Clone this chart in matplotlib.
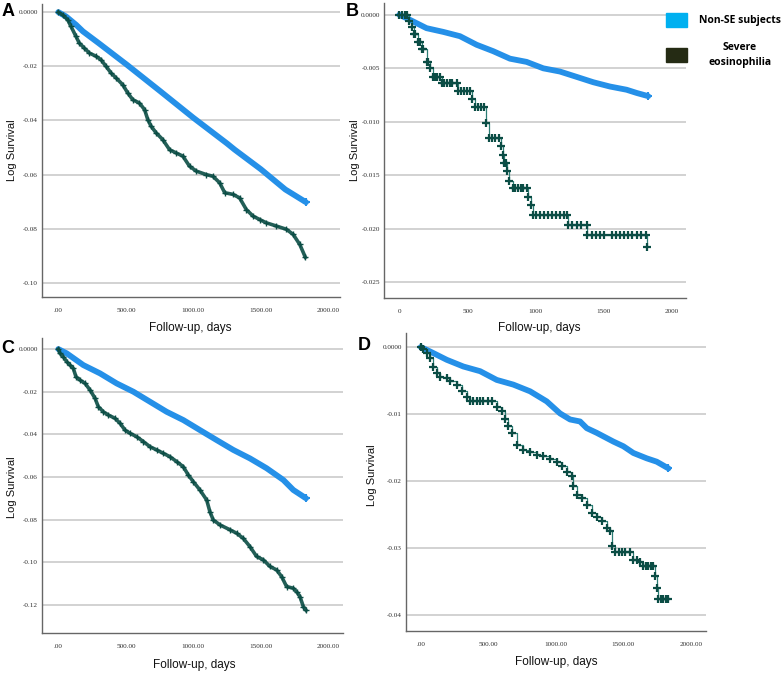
import numpy as np
import matplotlib
matplotlib.use("Agg")
import matplotlib.pyplot as plt
from matplotlib.patches import Rectangle

W, H = 782, 674

# ---- Panel A ----
a_blue_days = [0, 57, 132, 182, 300, 507, 750, 1000, 1250, 1307, 1500, 1682, 1835]
a_blue_vals = [0, -0.0016, -0.0047, -0.0071, -0.0115, -0.0194, -0.0290, -0.0390, -0.0485,
               -0.0508, -0.0580, -0.0655, -0.0702]
a_green_days = [0, 32, 69, 94, 131, 155, 193, 230, 279, 317, 353, 391, 428, 477, 515, 551,
                601, 639, 663, 688, 725, 774, 824, 873, 923, 972, 1022, 1096, 1145, 1195,
                1233, 1294, 1343, 1393, 1442, 1492, 1541, 1616, 1690, 1740, 1789, 1830]
a_green_vals = [0, -0.0010, -0.0028, -0.0053, -0.0090, -0.0114, -0.0133, -0.0151, -0.0163,
                -0.0176, -0.0200, -0.0225, -0.0243, -0.0268, -0.0299, -0.0323, -0.0336,
                -0.0360, -0.0397, -0.0422, -0.0446, -0.0471, -0.0508, -0.0520, -0.0532,
                -0.0569, -0.0587, -0.0600, -0.0606, -0.0630, -0.0667, -0.0673, -0.0686,
                -0.0729, -0.0753, -0.0766, -0.0778, -0.0790, -0.0802, -0.0821, -0.0858, -0.0905]

# ---- Panel B ----
b_blue_days = [0, 78, 200, 323, 445, 567, 689, 812, 934, 1056, 1178, 1301, 1423, 1545, 1667, 1741, 1826]
b_blue_vals = [0, -0.00047, -0.00125, -0.0016, -0.0020, -0.0028, -0.0034, -0.0041, -0.0044,
               -0.0050, -0.0053, -0.0058, -0.0063, -0.0067, -0.0070, -0.0073, -0.0076]
b_green_days = [0, 20, 40, 55, 73, 90, 105, 115, 140, 150, 165, 171, 205, 213, 225, 244, 260,
                280, 298, 310, 330, 350, 370, 390, 420, 433, 455, 475, 500, 518, 531, 555,
                575, 600, 621, 636, 660, 680, 700, 733, 743, 758, 768, 780, 792, 807, 831,
                850, 870, 890, 910, 934, 946, 963, 978, 1000, 1030, 1060, 1090, 1120, 1150,
                1180, 1210, 1227, 1240, 1270, 1300, 1330, 1374, 1379, 1410, 1440, 1470, 1500,
                1560, 1590, 1620, 1650, 1680, 1710, 1740, 1770, 1807, 1814]
b_green_vals = [0, 0, 0, 0, -0.0006, -0.0011, -0.0018, -0.0018, -0.0025, -0.0025, -0.0032,
                -0.0032, -0.0044, -0.0044, -0.0050, -0.0058, -0.0058, -0.0058, -0.0058,
                -0.0064, -0.0064, -0.0064, -0.0064, -0.0064, -0.0064, -0.0071, -0.0071,
                -0.0071, -0.0071, -0.0071, -0.0079, -0.0086, -0.0086, -0.0086, -0.0086,
                -0.0101, -0.0115, -0.0115, -0.0115, -0.0115, -0.0123, -0.0131, -0.0138,
                -0.0138, -0.0146, -0.0155, -0.0162, -0.0162, -0.0162, -0.0162, -0.0162,
                -0.0162, -0.0170, -0.0178, -0.0187, -0.0187, -0.0187, -0.0187, -0.0187,
                -0.0187, -0.0187, -0.0187, -0.0187, -0.0187, -0.0196, -0.0196, -0.0196,
                -0.0196, -0.0196, -0.0206, -0.0206, -0.0206, -0.0206, -0.0206, -0.0206,
                -0.0206, -0.0206, -0.0206, -0.0206, -0.0206, -0.0206, -0.0206, -0.0206, -0.0217]

# ---- Panel C ----
c_blue_days = [0, 62, 185, 309, 432, 556, 679, 802, 926, 1049, 1173, 1296, 1420, 1543, 1667, 1741, 1835]
c_blue_vals = [0, -0.0020, -0.0075, -0.0114, -0.0161, -0.0200, -0.0247, -0.0294, -0.0333,
               -0.0380, -0.0427, -0.0473, -0.0513, -0.0559, -0.0614, -0.0661, -0.0700]
c_green_days = [0, 12, 37, 62, 86, 111, 131, 160, 198, 235, 272, 296, 333, 370, 420, 457, 494,
                531, 580, 630, 679, 728, 778, 827, 877, 926, 963, 1000, 1049, 1099, 1123, 1148,
                1198, 1272, 1321, 1370, 1420, 1469, 1519, 1568, 1617, 1654, 1691, 1741, 1765,
                1790, 1815, 1835]
c_green_vals = [0, -0.0020, -0.0036, -0.0059, -0.0075, -0.0091, -0.0130, -0.0145, -0.0161,
                -0.0192, -0.0231, -0.0270, -0.0294, -0.0309, -0.0325, -0.0348, -0.0380,
                -0.0395, -0.0411, -0.0434, -0.0458, -0.0473, -0.0489, -0.0505, -0.0528,
                -0.0552, -0.0591, -0.0622, -0.0661, -0.0708, -0.0763, -0.0802, -0.0825,
                -0.0848, -0.0864, -0.0888, -0.0927, -0.0973, -0.0989, -0.1020, -0.1036,
                -0.1067, -0.1114, -0.1122, -0.1138, -0.1161, -0.1208, -0.1225]

# ---- Panel D ----
d_blue_days = [0, 69, 193, 316, 440, 563, 686, 810, 933, 1032, 1106, 1180, 1230, 1304, 1427,
               1501, 1575, 1674, 1748, 1835]
d_blue_vals = [0, -0.00065, -0.0019, -0.0029, -0.0036, -0.0049, -0.0056, -0.0066, -0.0081,
               -0.0099, -0.0108, -0.0111, -0.0121, -0.0128, -0.0141, -0.0148, -0.0158,
               -0.0166, -0.0171, -0.0181]
d_green_days = [0, 20, 44, 69, 94, 119, 143, 193, 217, 267, 304, 341, 365, 390, 415, 440, 464,
                495, 526, 563, 600, 625, 649, 674, 711, 760, 810, 864, 909, 958, 1007, 1044,
                1081, 1119, 1131, 1156, 1193, 1230, 1267, 1304, 1341, 1378, 1402, 1415, 1440,
                1465, 1489, 1515, 1551, 1575, 1600, 1625, 1649, 1668, 1686, 1705, 1723, 1736,
                1748, 1760, 1780, 1798, 1815, 1835]
d_green_vals = [0, -0.0003, -0.0009, -0.0016, -0.0029, -0.0039, -0.0044, -0.0046, -0.0051,
                -0.0056, -0.0066, -0.0074, -0.0081, -0.0081, -0.0081, -0.0081, -0.0081,
                -0.0081, -0.0081, -0.0089, -0.0096, -0.0108, -0.0118, -0.0128, -0.0146,
                -0.0153, -0.0156, -0.0161, -0.0163, -0.0167, -0.0171, -0.0178, -0.0186,
                -0.0193, -0.0208, -0.0220, -0.0225, -0.0235, -0.0248, -0.0253, -0.0260,
                -0.0270, -0.0275, -0.0297, -0.0305, -0.0305, -0.0305, -0.0305, -0.0305,
                -0.0317, -0.0317, -0.0320, -0.0327, -0.0327, -0.0327, -0.0327, -0.0327,
                -0.0342, -0.0360, -0.0376, -0.0376, -0.0376, -0.0376, -0.0376]

legend_labels = ["Non-SE subjects", "Severe\neosinophilia"]

BLUE = "#2590E8"
GREEN_LINE = "#2a7d74"
GREEN_MARK = "#0b4d45"
GRID = "#cfcfcf"


def px_rect(l, t, r, b):
    return [l / W, 1 - b / H, (r - l) / W, (b - t) / H]


def fx(x):
    return x / W


def fy(y):
    return 1 - y / H


def draw_panel(ax, bd, bv, gd, gv, yticks, ylabels, xlabels, xlim, ylim, dense):
    for yt in yticks:
        ax.axhline(yt, color=GRID, lw=1.3, zorder=0)
    # many small steps -> drawn as a thick continuous band
    ax.plot(bd, bv, color=BLUE, lw=4.2, solid_capstyle="round", zorder=2)
    ax.plot(bd[-1:], bv[-1:], "+", color=BLUE, ms=6, mew=1.5, zorder=3)
    if dense:
        ax.plot(gd, gv, color=GREEN_MARK, lw=2.6, alpha=0.9, zorder=3)
        ax.plot(gd, gv, "+", color=GREEN_MARK, ms=5, mew=1.0, zorder=4)
    else:
        ax.plot(gd, gv, drawstyle="steps-post", color=GREEN_LINE, lw=0.9, zorder=3)
        ax.plot(gd, gv, "+", color=GREEN_MARK, ms=6, mew=1.6, zorder=4)
    ax.set_xlim(*xlim)
    ax.set_ylim(*ylim)
    ax.set_yticks(yticks)
    ax.set_yticklabels(ylabels)
    ax.set_xticks([0, 500, 1000, 1500, 2000])
    ax.set_xticklabels(xlabels)
    ax.tick_params(length=0, labelsize=5.2, pad=3)
    ax.tick_params(axis="x", pad=8)
    for lab in ax.get_xticklabels() + ax.get_yticklabels():
        lab.set_family("Liberation Serif")
        lab.set_color("#333333")
    for s in ["top", "right"]:
        ax.spines[s].set_visible(False)
    for s in ["left", "bottom"]:
        ax.spines[s].set_color("#666666")
        ax.spines[s].set_linewidth(1.0)
    ax.set_facecolor("white")


fig = plt.figure(figsize=(W / 100, H / 100), dpi=100)

xl_dec = [".00", "500.00", "1000.00", "1500.00", "2000.00"]

axA = fig.add_axes(px_rect(42, 4, 340, 297))
draw_panel(axA, a_blue_days, a_blue_vals, a_green_days, a_green_vals,
           [0, -0.02, -0.04, -0.06, -0.08, -0.10],
           ["0.0000", "-0.02", "-0.04", "-0.06", "-0.08", "-0.10"],
           xl_dec, (-121, 2087), (-0.1052, 0.0030), True)

axB = fig.add_axes(px_rect(384, 3, 686, 298))
draw_panel(axB, b_blue_days, b_blue_vals, b_green_days, b_green_vals,
           [0, -0.005, -0.010, -0.015, -0.020, -0.025],
           ["0.0000", "-0.005", "-0.010", "-0.015", "-0.020", "-0.025"],
           ["0", "500", "1000", "1500", "2000"], (-112, 2103), (-0.02645, 0.0011), False)

axC = fig.add_axes(px_rect(42, 338, 343, 633))
draw_panel(axC, c_blue_days, c_blue_vals, c_green_days, c_green_vals,
           [0, -0.02, -0.04, -0.06, -0.08, -0.10, -0.12],
           ["0.0000", "-0.02", "-0.04", "-0.06", "-0.08", "-0.10", "-0.12"],
           xl_dec, (-121, 2109), (-0.1332, 0.0052), True)

axD = fig.add_axes(px_rect(406, 333, 706, 631))
draw_panel(axD, d_blue_days, d_blue_vals, d_green_days, d_green_vals,
           [0, -0.01, -0.02, -0.03, -0.04],
           ["0.0000", "-0.01", "-0.02", "-0.03", "-0.04"],
           xl_dec, (-109, 2113), (-0.04236, 0.0021), False)

# axis titles
for x, y in [(12, 150), (355, 150), (12, 487), (372, 475)]:
    fig.text(fx(x), fy(y), "Log Survival", rotation=90, ha="center", va="center",
             family="Liberation Sans", fontsize=8, color="#111111")
for x, y in [(190, 328), (539, 328), (194, 665), (556, 662)]:
    fig.text(fx(x), fy(y), "Follow-up, days", ha="center", va="center", fontsize=8.5,
             family="Liberation Sans", color="#111111")

# panel letters
for letter, x, y in [("A", 8, 11), ("B", 352, 11), ("C", 8, 349), ("D", 364, 345)]:
    fig.text(fx(x), fy(y), letter, ha="center", va="center", fontsize=13,
             fontweight="bold", family="Liberation Sans")

# legend
for (y0, col), txt, ty in zip([(13, "#00B0F0"), (48, "#252B14")], legend_labels, [20, 55]):
    fig.patches.append(Rectangle((fx(666), fy(y0 + 14)), 21 / W, 14 / H,
                                 transform=fig.transFigure, color=col, figure=fig))
    fig.text(fx(740), fy(ty), txt, ha="center", va="center", fontsize=7.5,
             fontweight="bold", family="Open Sans", linespacing=1.5)

fig.savefig("out.png", dpi=100)
